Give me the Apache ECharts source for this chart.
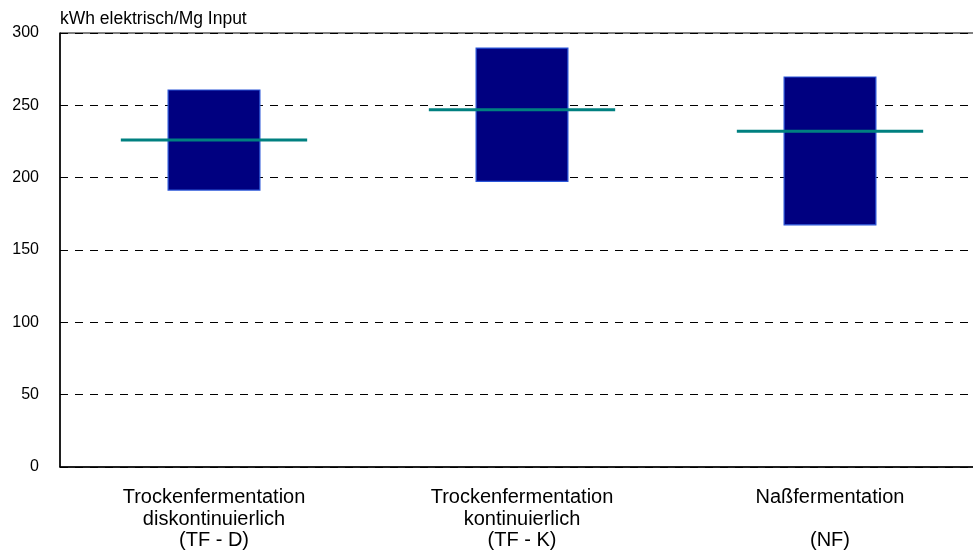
<!DOCTYPE html>
<html><head><meta charset="utf-8">
<script src="https://cdn.jsdelivr.net/npm/echarts@6/dist/echarts.min.js"></script>
<style>html,body{margin:0;padding:0;background:#fff}#c{width:973px;height:556px}</style>
</head><body><div id="c"></div>
<script>
const categories = ['Trockenfermentation\ndiskontinuierlich\n(TF - D)', 'Trockenfermentation\nkontinuierlich\n(TF - K)', 'Naßfermentation\n\n(NF)'];
const minValues = [191, 197, 167];
const maxValues = [261, 290, 270];
const meanValues = [226, 247, 232];
const yTicks = [0, 50, 100, 150, 200, 250, 300];

const rangeValues = maxValues.map((v, i) => v - minValues[i]);
const FONT = 'Liberation Sans, Arial, sans-serif';

const chart = echarts.init(document.getElementById('c'));
chart.setOption({
  animation: false,
  backgroundColor: '#fff',
  grid: { left: 60, top: 33, width: 924, height: 434, show: true, borderColor: '#000', borderWidth: 1,
    containLabel: false, outerBoundsMode: 'none' },
  xAxis: {
    type: 'category', data: categories,
    axisLine: { show: true, lineStyle: { color: '#000', width: 1.5 } },
    axisTick: { show: false },
    axisLabel: { color: '#000', fontFamily: FONT, fontSize: 20, lineHeight: 21.5, margin: 20, interval: 0 }
  },
  yAxis: {
    type: 'value', min: 0, max: 300, interval: 50,
    name: 'kWh elektrisch/Mg Input', nameLocation: 'end', nameGap: 5,
    nameTextStyle: { color: '#000', fontFamily: FONT, fontSize: 17.5, align: 'left', verticalAlign: 'bottom' },
    axisLine: { show: true, lineStyle: { color: '#000', width: 1.5 } },
    axisTick: { show: false },
    axisLabel: { color: '#000', fontFamily: FONT, fontSize: 16, margin: 21, padding: [6, 0, 0, 0],
      formatter: v => yTicks.includes(v) ? String(v) : '' },
    splitLine: { show: true, lineStyle: { color: '#000', type: [8, 7], width: 1 } }
  },
  series: [
    { type: 'bar', stack: 'r', data: minValues, barWidth: 93, itemStyle: { color: 'transparent' }, silent: true },
    { type: 'bar', stack: 'r', data: rangeValues, barWidth: 93,
      itemStyle: { color: '#000080', borderColor: '#2a55d8', borderWidth: 1.2 } },
    { type: 'custom', z: 5,
      data: meanValues.map((v, i) => [i, v]),
      renderItem: function (params, api) {
        const p = api.coord([api.value(0), api.value(1)]);
        const w = api.size([1, 0])[0] * 0.605;
        return { type: 'line', shape: { x1: p[0] - w / 2, y1: p[1], x2: p[0] + w / 2, y2: p[1] },
          style: { stroke: '#008080', lineWidth: 3 } };
      }
    }
  ]
});
</script></body></html>
